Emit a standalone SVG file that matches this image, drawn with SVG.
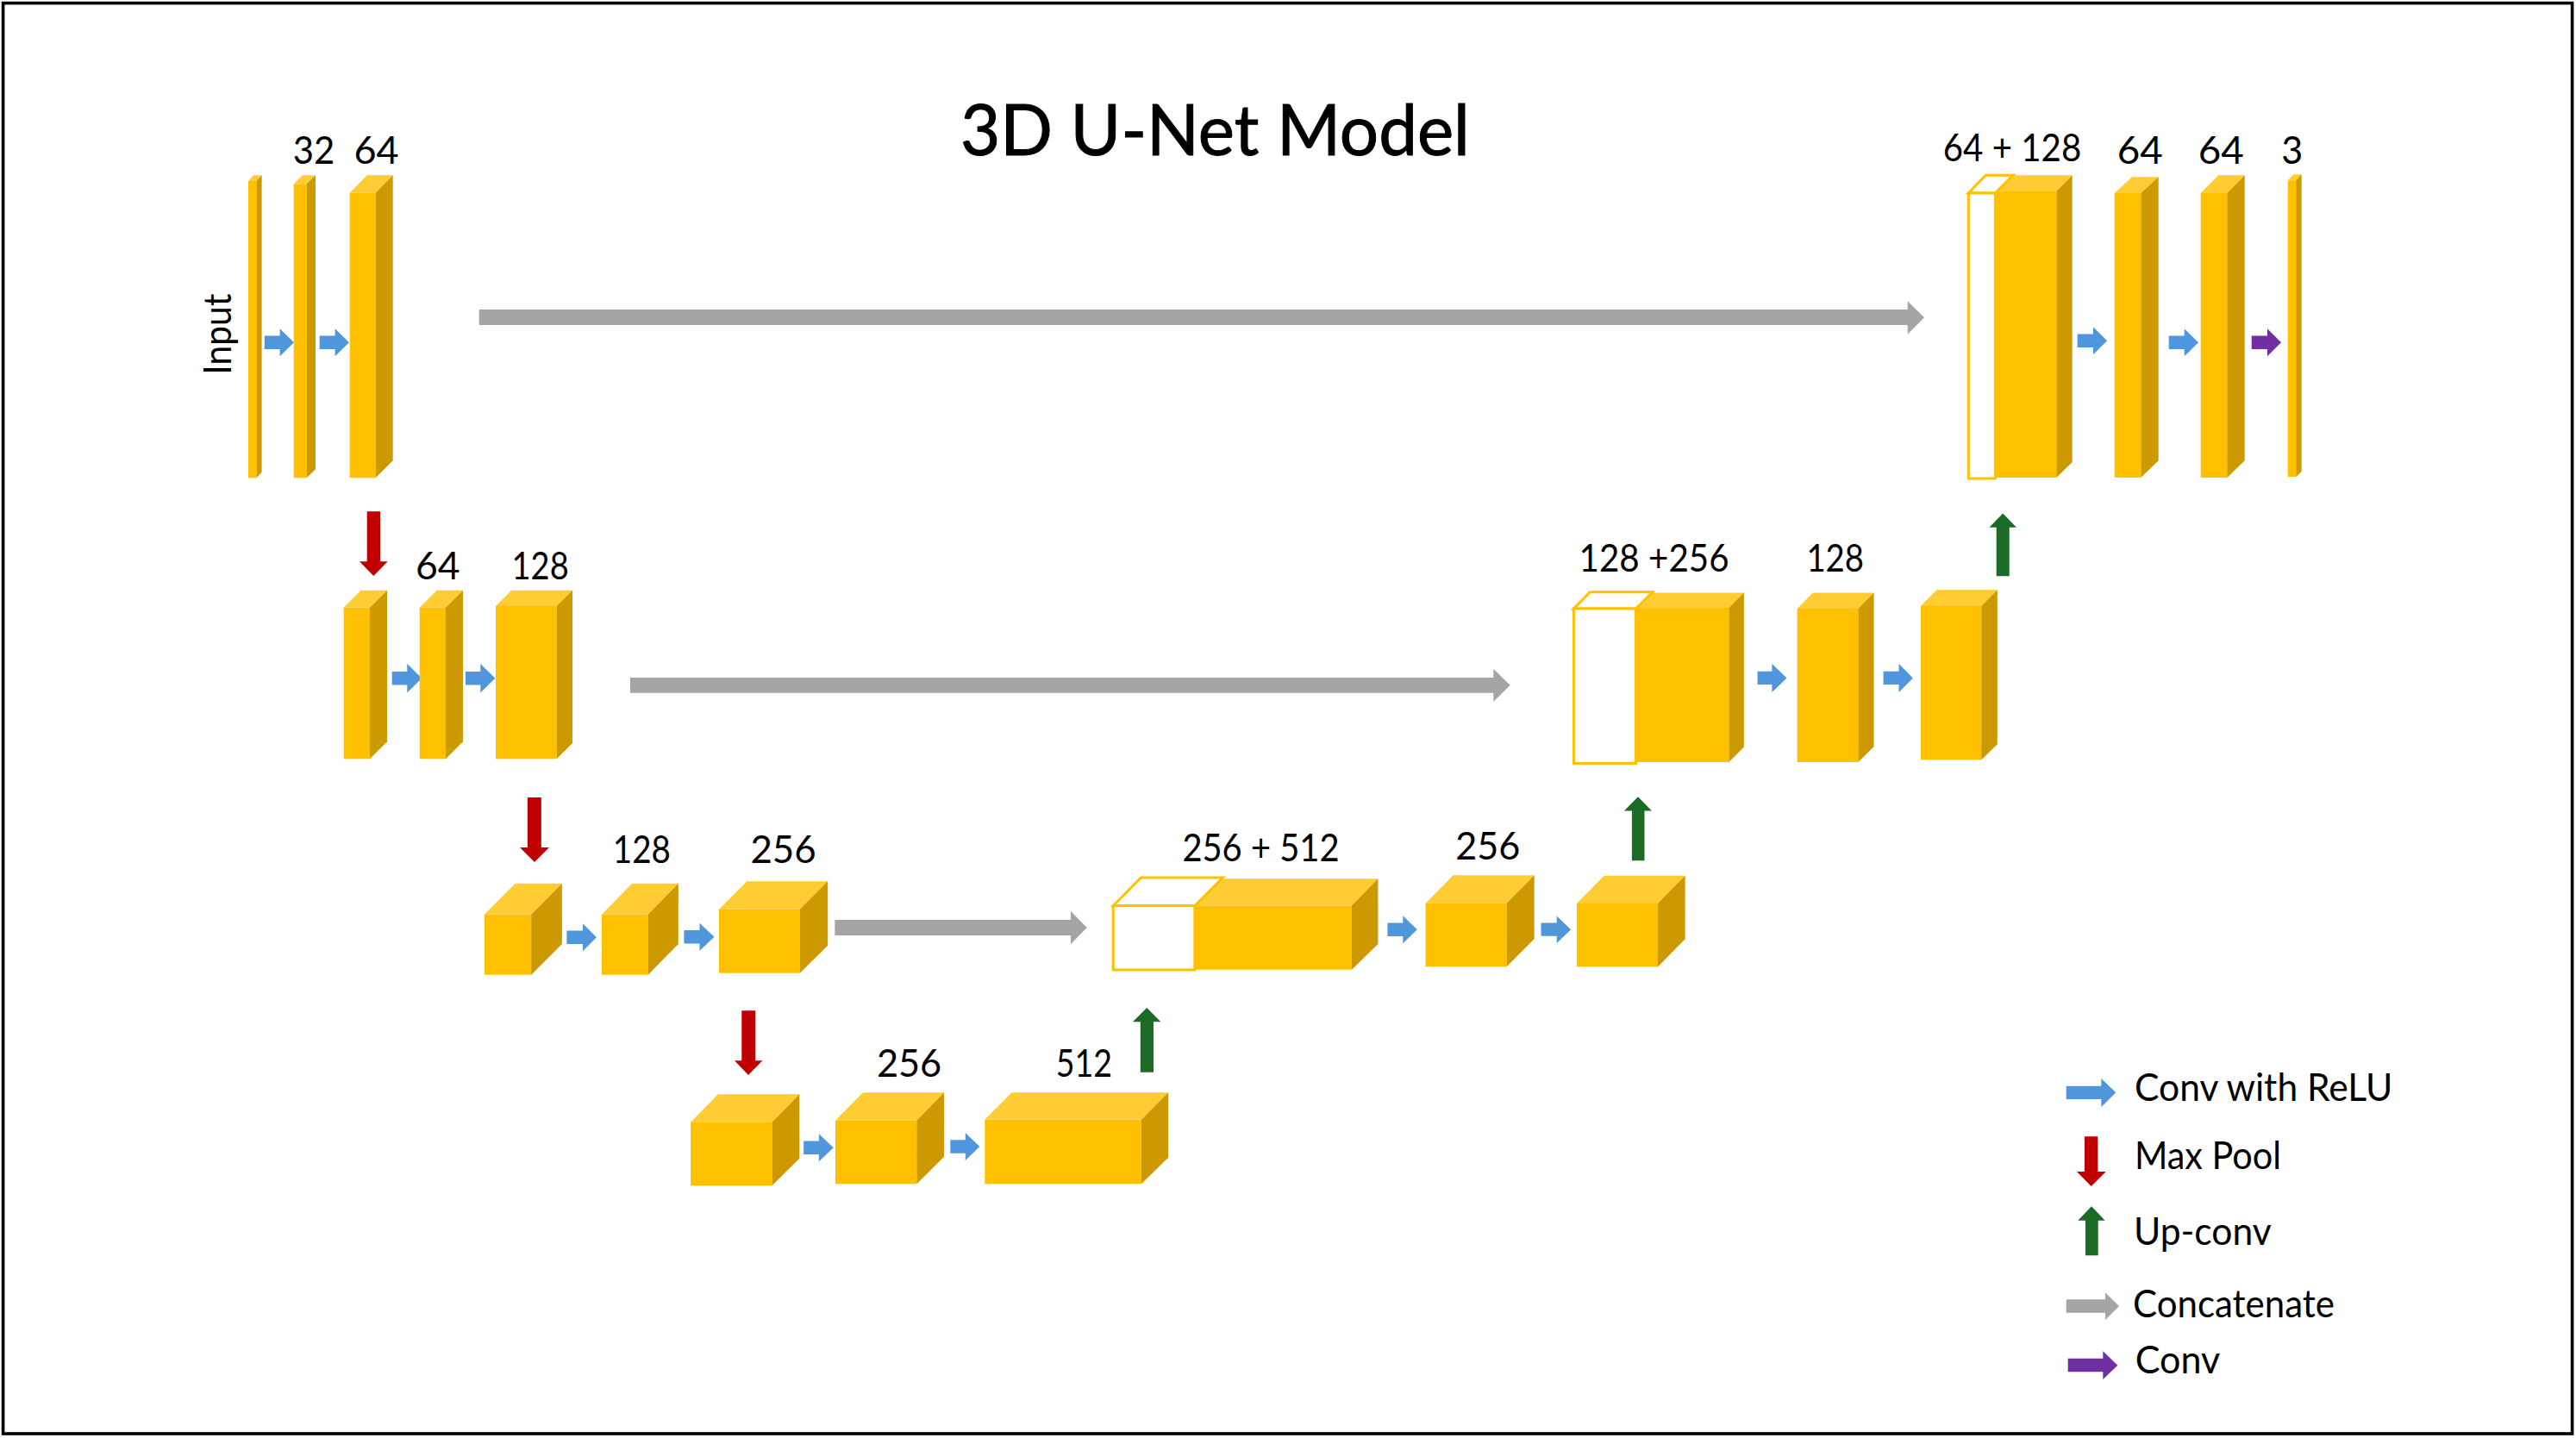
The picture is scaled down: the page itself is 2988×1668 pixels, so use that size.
<svg xmlns="http://www.w3.org/2000/svg" width="2988" height="1668" viewBox="0 0 2988 1668">
<style>
text{font-family:"Lato","Liberation Sans",sans-serif;font-size:45px;fill:#000}
.title{font-size:81px;stroke:#000;stroke-width:1}
.f{fill:#FFC000}.t{fill:#FFCD33}.s{fill:#CC9A00}
.w{fill:#fff;stroke:#FFC000;stroke-width:3}
.conv{fill:#5096DC}.pool{fill:#C00000}.up{fill:#1B6B26}.cat{fill:#A5A5A5}.out{fill:#7030A0}
</style>
<rect width="2988" height="1668" fill="#fff"/>
<rect x="3.6" y="3.6" width="2980" height="1659.4" fill="#fff" stroke="#000" stroke-width="3.6"/>
<text id="title" class="title" x="1114" y="179.8" textLength="591" lengthAdjust="spacingAndGlyphs">3D U-Net Model</text>

<g id="connectors">
<g class="conv">
<polygon points="306.8,389.6 324.6,389.6 324.6,381.3 341,397.3 324.6,413.3 324.6,405 306.8,405"/>
<polygon points="370.7,389.6 388.6,389.6 388.6,381.3 405,397.3 388.6,413.3 388.6,405 370.7,405"/>
<polygon points="454.7,779 472.3,779 472.3,770 489.3,786.7 472.3,803.4 472.3,794.4 454.7,794.4"/>
<polygon points="540,779 557.3,779 557.3,770 574.3,786.7 557.3,803.4 557.3,794.4 540,794.4"/>
<polygon points="657.4,1079.6 676,1079.6 676,1071.3 691.9,1087.3 676,1103.3 676,1095 657.4,1095"/>
<polygon points="793.4,1079 811.5,1079 811.5,1070.7 828.5,1086.7 811.5,1102.7 811.5,1094.4 793.4,1094.4"/>
<polygon points="932.2,1323.6 949.8,1323.6 949.8,1315.3 966.8,1331.3 949.8,1347.3 949.8,1339 932.2,1339"/>
<polygon points="1102.3,1322.3 1119.8,1322.3 1119.8,1314 1136.3,1330 1119.8,1346 1119.8,1337.7 1102.3,1337.7"/>
<polygon points="1609.4,1070.6 1627.3,1070.6 1627.3,1062.3 1643.8,1078.3 1627.3,1094.3 1627.3,1086 1609.4,1086"/>
<polygon points="1787.5,1070.4 1805.7,1070.4 1805.7,1062.5 1822.1,1078.2 1805.7,1093.9 1805.7,1085.7 1787.5,1085.7"/>
<polygon points="2038.6,778.7 2055.4,778.7 2055.4,770 2072.5,786.4 2055.4,803 2055.4,794.1 2038.6,794.1"/>
<polygon points="2184.6,778.7 2202.5,778.7 2202.5,770 2218.9,786.4 2202.5,803 2202.5,794.1 2184.6,794.1"/>
<polygon points="2409.7,387.6 2428,387.6 2428,379.3 2444,395.3 2428,411.3 2428,403 2409.7,403"/>
<polygon points="2515.7,389.6 2533.7,389.6 2533.7,381.3 2550,397.3 2533.7,413.3 2533.7,405 2515.7,405"/>
<polygon points="2396.7,1259.7 2437.3,1259.7 2437.3,1251 2454.3,1267.3 2437.3,1284 2437.3,1275 2396.7,1275"/>
</g>
<g class="out">
<polygon points="2611.7,389.6 2630,389.6 2630,381.3 2646,397.3 2630,413.3 2630,405 2611.7,405"/>
<polygon points="2398.7,1575.7 2439.3,1575.7 2439.3,1567.3 2456.3,1583.7 2439.3,1600 2439.3,1591.3 2398.7,1591.3"/>
</g>
<g class="pool">
<polygon points="425.7,593.3 441,593.3 441,651.3 449.7,651.3 433.3,668 417,651.3 425.7,651.3"/>
<polygon points="611.9,925 627.8,925 627.8,983 637,983 620,1000 603,983 611.9,983"/>
<polygon points="860.3,1172.3 876.3,1172.3 876.3,1230.3 884.5,1230.3 868,1247 852,1230.3 860.3,1230.3"/>
<polygon points="2418,1318.3 2433.3,1318.3 2433.3,1359 2442.7,1359 2425.7,1376 2409,1359 2418,1359"/>
</g>
<g class="up">
<polygon points="2315.7,668.2 2330.7,668.2 2330.7,611.8 2338.9,611.8 2323.2,595.4 2307.5,611.8 2315.7,611.8"/>
<polygon points="1892.9,998.2 1907.5,998.2 1907.5,940.4 1916,940.4 1900,924.3 1883.9,940.4 1892.9,940.4"/>
<polygon points="1322.8,1243.7 1338,1243.7 1338,1185.3 1346.4,1185.3 1330.2,1169 1314,1185.3 1322.8,1185.3"/>
<polygon points="2419,1456.3 2433.7,1456.3 2433.7,1415.7 2441.7,1415.7 2426,1399.3 2410.3,1415.7 2419,1415.7"/>
</g>
<g class="cat">
<polygon points="555.7,359 2212.7,359 2212.7,349.3 2232,368.3 2212.7,387.7 2212.7,377 555.7,377"/>
<polygon points="731,786 1732.3,786 1732.3,776 1751.7,794.8 1732.3,814 1732.3,803.8 731,803.8"/>
<polygon points="968.4,1067 1242,1067 1242,1057 1260.8,1076 1242,1095 1242,1085 968.4,1085"/>
<polygon points="2396.7,1507.3 2442,1507.3 2442,1499.3 2458,1515 2442,1531 2442,1522.7 2396.7,1522.7"/>
</g>
</g>

<g id="node-input">
<rect class="f" x="288" y="210" width="9.5" height="344.3"/>
<polygon class="t" points="288,210 297.5,210 303.6,203.3 294.1,203.3"/>
<polygon class="s" points="297.5,210 303.6,203.3 303.6,547.7 297.5,554.3"/>
<text transform="translate(267.9 434.7) rotate(-90)" textLength="94" lengthAdjust="spacingAndGlyphs">Input</text>
</g>
<g id="node-e1-32">
<rect class="f" x="340.7" y="213.3" width="15" height="341"/>
<polygon class="t" points="340.7,213.3 355.7,213.3 366,203.3 351,203.3"/>
<polygon class="s" points="355.7,213.3 366,203.3 366,544.3 355.7,554.3"/>
<text x="339.8" y="190" textLength="48.6" lengthAdjust="spacingAndGlyphs">32</text>
</g>
<g id="node-e1-64">
<rect class="f" x="405.7" y="223.7" width="30" height="330.6"/>
<polygon class="t" points="405.7,223.7 435.7,223.7 455.7,203.3 425.7,203.3"/>
<polygon class="s" points="435.7,223.7 455.7,203.3 455.7,534.3 435.7,554.3"/>
<text x="410.5" y="190" textLength="52.2" lengthAdjust="spacingAndGlyphs">64</text>
</g>

<g id="node-e2-a">
<rect class="f" x="398.7" y="704.7" width="30.3" height="175.6"/>
<polygon class="t" points="398.7,704.7 429,704.7 449,684.7 418.7,684.7"/>
<polygon class="s" points="429,704.7 449,684.7 449,860.3 429,880.3"/>
</g>
<g id="node-e2-64">
<rect class="f" x="486.7" y="704.7" width="30.3" height="175.6"/>
<polygon class="t" points="486.7,704.7 517,704.7 537,684.7 506.7,684.7"/>
<polygon class="s" points="517,704.7 537,684.7 537,860.3 517,880.3"/>
<text x="482" y="672.3" textLength="51.7" lengthAdjust="spacingAndGlyphs">64</text>
</g>
<g id="node-e2-128">
<rect class="f" x="575" y="703" width="70.7" height="177.3"/>
<polygon class="t" points="575,703 645.7,703 664,684.7 593.3,684.7"/>
<polygon class="s" points="645.7,703 664,684.7 664,862 645.7,880.3"/>
<text x="593.5" y="672.3" textLength="66.2" lengthAdjust="spacingAndGlyphs">128</text>
</g>

<g id="node-e3-a">
<rect class="f" x="561.9" y="1060.7" width="54.3" height="70"/>
<polygon class="t" points="561.9,1060.7 616.2,1060.7 651.9,1024.7 597.6,1024.7"/>
<polygon class="s" points="616.2,1060.7 651.9,1024.7 651.9,1095 616.2,1130.7"/>
</g>
<g id="node-e3-128">
<rect class="f" x="698" y="1060.7" width="53.7" height="70"/>
<polygon class="t" points="698,1060.7 751.7,1060.7 786.8,1024.7 733.1,1024.7"/>
<polygon class="s" points="751.7,1060.7 786.8,1024.7 786.8,1095 751.7,1130.7"/>
<text x="710.8" y="1001" textLength="67.1" lengthAdjust="spacingAndGlyphs">128</text>
</g>
<g id="node-e3-256">
<rect class="f" x="834" y="1054.7" width="93.8" height="74"/>
<polygon class="t" points="834,1054.7 927.8,1054.7 960.2,1022.3 866.4,1022.3"/>
<polygon class="s" points="927.8,1054.7 960.2,1022.3 960.2,1096.7 927.8,1128.7"/>
<text x="870.4" y="1001" textLength="76.4" lengthAdjust="spacingAndGlyphs">256</text>
</g>

<g id="node-b-a">
<rect class="f" x="801.1" y="1301.7" width="94.4" height="73.6"/>
<polygon class="t" points="801.1,1301.7 895.5,1301.7 927.3,1269.3 832.9,1269.3"/>
<polygon class="s" points="895.5,1301.7 927.3,1269.3 927.3,1343.7 895.5,1375.3"/>
</g>
<g id="node-b-256">
<rect class="f" x="969" y="1299.7" width="94.3" height="73.6"/>
<polygon class="t" points="969,1299.7 1063.3,1299.7 1095.1,1267.3 1000.8,1267.3"/>
<polygon class="s" points="1063.3,1299.7 1095.1,1267.3 1095.1,1341.7 1063.3,1373.3"/>
<text x="1016.9" y="1249" textLength="75.3" lengthAdjust="spacingAndGlyphs">256</text>
</g>
<g id="node-b-512">
<rect class="f" x="1142.3" y="1298.7" width="181.6" height="74.6"/>
<polygon class="t" points="1142.3,1298.7 1323.9,1298.7 1355.1,1267.3 1173.5,1267.3"/>
<polygon class="s" points="1323.9,1298.7 1355.1,1267.3 1355.1,1342.7 1323.9,1373.3"/>
<text x="1224.8" y="1249" textLength="65.3" lengthAdjust="spacingAndGlyphs">512</text>
</g>

<g id="node-d3-concat">
<rect class="f" x="1385.8" y="1050.3" width="182.2" height="74.4"/>
<polygon class="t" points="1385.8,1050.3 1568,1050.3 1598.4,1019.3 1416.2,1019.3"/>
<polygon class="s" points="1568,1050.3 1598.4,1019.3 1598.4,1095 1568,1124.7"/>
<polygon class="w" points="1291.2,1050.7 1323.4,1018 1418.4,1018 1385.8,1050.7"/>
<rect class="w" x="1291.2" y="1050.7" width="94.6" height="74.3"/>
<text x="1371.4" y="999" textLength="182.2" lengthAdjust="spacingAndGlyphs">256 + 512</text>
</g>
<g id="node-d3-256">
<rect class="f" x="1653.5" y="1047.7" width="94.1" height="73.6"/>
<polygon class="t" points="1653.5,1047.7 1747.6,1047.7 1779.7,1015.3 1685.6,1015.3"/>
<polygon class="s" points="1747.6,1047.7 1779.7,1015.3 1779.7,1089 1747.6,1121.3"/>
<text x="1688.2" y="996.7" textLength="75.2" lengthAdjust="spacingAndGlyphs">256</text>
</g>
<g id="node-d3-b">
<rect class="f" x="1828.9" y="1047.9" width="94" height="73.5"/>
<polygon class="t" points="1828.9,1047.9 1922.9,1047.9 1954.6,1015.7 1860.6,1015.7"/>
<polygon class="s" points="1922.9,1047.9 1954.6,1015.7 1954.6,1089.3 1922.9,1121.4"/>
</g>

<g id="node-d2-concat">
<rect class="f" x="1897.5" y="705" width="107.9" height="179"/>
<polygon class="t" points="1897.5,705 2005.4,705 2022.9,687.5 1915,687.5"/>
<polygon class="s" points="2005.4,705 2022.9,687.5 2022.9,866.4 2005.4,884"/>
<polygon class="w" points="1825.4,706 1844.3,686.8 1916.8,686.8 1897.5,706"/>
<rect class="w" x="1825.4" y="706" width="72.1" height="179.4"/>
<text x="1831.6" y="662.9" textLength="174" lengthAdjust="spacingAndGlyphs">128 +256</text>
</g>
<g id="node-d2-128">
<rect class="f" x="2084.6" y="706" width="70.8" height="178"/>
<polygon class="t" points="2084.6,706 2155.4,706 2173.6,687.5 2102.8,687.5"/>
<polygon class="s" points="2155.4,706 2173.6,687.5 2173.6,866 2155.4,884"/>
<text x="2095.4" y="662.5" textLength="66.6" lengthAdjust="spacingAndGlyphs">128</text>
</g>
<g id="node-d2-b">
<rect class="f" x="2227.9" y="702.9" width="70.3" height="178.5"/>
<polygon class="t" points="2227.9,702.9 2298.2,702.9 2316.8,684.3 2246.5,684.3"/>
<polygon class="s" points="2298.2,702.9 2316.8,684.3 2316.8,863.2 2298.2,881.4"/>
</g>

<g id="node-d1-concat">
<rect class="f" x="2314.3" y="222" width="71" height="332"/>
<polygon class="t" points="2314.3,222 2385.3,222 2403.7,203.3 2332.7,203.3"/>
<polygon class="s" points="2385.3,222 2403.7,203.3 2403.7,536 2385.3,554"/>
<polygon class="w" points="2283.3,224 2303.3,203.3 2335,203.3 2314.3,224"/>
<rect class="w" x="2283.3" y="224" width="31" height="331"/>
<text x="2253.7" y="186.7" textLength="160.6" lengthAdjust="spacingAndGlyphs">64 + 128</text>
</g>
<g id="node-d1-64a">
<rect class="f" x="2452.7" y="224" width="30.6" height="330"/>
<polygon class="t" points="2452.7,224 2483.3,224 2503.7,205.3 2473.1,205.3"/>
<polygon class="s" points="2483.3,224 2503.7,205.3 2503.7,534.3 2483.3,554"/>
<text x="2455.7" y="190" textLength="53" lengthAdjust="spacingAndGlyphs">64</text>
</g>
<g id="node-d1-64b">
<rect class="f" x="2552.7" y="224" width="30.6" height="330"/>
<polygon class="t" points="2552.7,224 2583.3,224 2603.7,203.3 2573.1,203.3"/>
<polygon class="s" points="2583.3,224 2603.7,203.3 2603.7,534.3 2583.3,554"/>
<text x="2549.7" y="190" textLength="53" lengthAdjust="spacingAndGlyphs">64</text>
</g>
<g id="node-output">
<rect class="f" x="2653.7" y="209.3" width="9.6" height="343.7"/>
<polygon class="t" points="2653.7,209.3 2663.3,209.3 2669.7,202.3 2660.1,202.3"/>
<polygon class="s" points="2663.3,209.3 2669.7,202.3 2669.7,546.7 2663.3,553"/>
<text x="2646.3" y="190" textLength="25" lengthAdjust="spacingAndGlyphs">3</text>
</g>

<g id="legend">
<text x="2476" y="1277" textLength="299.3" lengthAdjust="spacingAndGlyphs">Conv with ReLU</text>
<text x="2476" y="1355.5" textLength="170" lengthAdjust="spacingAndGlyphs">Max Pool</text>
<text x="2475" y="1444" textLength="159.7" lengthAdjust="spacingAndGlyphs">Up-conv</text>
<text x="2474" y="1527.5" textLength="234" lengthAdjust="spacingAndGlyphs">Concatenate</text>
<text x="2476.7" y="1592.5" textLength="98.6" lengthAdjust="spacingAndGlyphs">Conv</text>
</g>
</svg>
